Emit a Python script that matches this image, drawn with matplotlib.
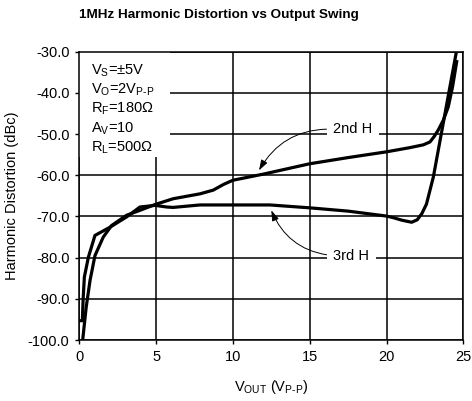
import matplotlib
matplotlib.use("Agg")
import matplotlib.pyplot as plt
from matplotlib.patches import Rectangle

plt.rcParams['font.family'] = ['Liberation Sans', 'DejaVu Sans']
plt.rcParams['mathtext.fontset'] = 'custom'
plt.rcParams['mathtext.rm'] = 'Liberation Sans'

# Data
h2_v = [0.22, 0.45, 0.7, 1.02, 1.56, 2.1, 3.08, 3.95, 4.93, 6.1, 7.86, 8.72, 9.4, 10,
        12, 15, 17.5, 20, 21.5, 22.4, 22.83, 23.1, 23.37, 23.7, 24.02, 24.3, 24.57]
h2_d = [-100, -92, -85.5, -79.5, -75, -72.2, -69.7, -68.5, -67.1, -65.7, -64.5, -63.6, -62.2, -61.2,
        -59.7, -57.2, -55.7, -54.3, -53.3, -52.6, -51.9, -50.6, -49, -46.6, -43.4, -38.5, -32.4]

h3_v = [0.05, 0.2, 0.25, 0.33, 0.59, 1.02, 2.0, 3.08, 3.95, 4.93, 5.69, 6.1, 7.86, 10,
        12.4, 15, 17.5, 20, 20.45, 21.0, 21.64, 22.0, 22.3, 22.6, 23.05, 23.7, 24.0, 24.52]
h3_d = [-95.3, -95.3, -90, -84.7, -79.9, -74.6, -72.6, -70.1, -67.7, -67.3, -67.7, -67.8, -67.2, -67.2,
        -67.2, -67.9, -68.7, -69.9, -70.3, -70.9, -71.4, -70.8, -69.3, -67.0, -60.4, -47.2, -41.1, -30.6]

x_ticks = [0, 5, 10, 15, 20, 25]
y_ticks = [-100, -90, -80, -70, -60, -50, -40, -30]
cond_lines = [r'V$_\mathregular{S}$=±5V', r'V$_\mathregular{O}$=2V$_\mathregular{P\text{-}P}$',
              r'R$_\mathregular{F}$=180Ω', r'A$_\mathregular{V}$=10', r'R$_\mathregular{L}$=500Ω']

fig = plt.figure(figsize=(4.72, 4.01), dpi=100)
ax = fig.add_axes([0.168, 0.152, 0.8136, 0.719])

ax.set_xlim(0, 25)
ax.set_ylim(-100, -30)
ax.set_xticks(x_ticks)
ax.set_yticks(y_ticks)
ax.set_yticklabels([f"{t:.1f}" for t in y_ticks])
ax.grid(True, color='black', linewidth=1.1, zorder=1)
ax.set_axisbelow(True)
for s in ax.spines.values():
    s.set_linewidth(1.1)
ax.tick_params(length=3, width=1.0, labelsize=10.5, pad=4)

ax.plot(h2_v, h2_d, color='black', linewidth=2.3, zorder=3, solid_joinstyle='round')
ax.plot(h3_v, h3_d, color='black', linewidth=2.3, zorder=3, solid_joinstyle='round')

# White box behind conditions
ax.add_patch(Rectangle((0, 0.635), 0.236, 0.365, transform=ax.transAxes,
                       facecolor='white', edgecolor='none', zorder=2))
for i, t in enumerate(cond_lines):
    ax.text(0.03, 0.935 - i * 0.067, t, transform=ax.transAxes, fontsize=10.5,
            va='center', ha='left', zorder=4)

ax.annotate('2nd H', xy=(11.7, -58.8), xytext=(17.8, -48.8), fontsize=10.5,
            ha='center', va='center', zorder=4,
            bbox=dict(boxstyle='square,pad=0.45', facecolor='white', edgecolor='none'),
            arrowprops=dict(arrowstyle='-|>,head_length=0.6,head_width=0.2', color='black', lw=0.7,
                            shrinkA=0, shrinkB=0, relpos=(0, 0.5),
                            connectionstyle='arc3,rad=0.3'))
ax.annotate('3rd H', xy=(12.5, -68.5), xytext=(17.7, -79.5), fontsize=10.5,
            ha='center', va='center', zorder=4,
            bbox=dict(boxstyle='square,pad=0.45', facecolor='white', edgecolor='none'),
            arrowprops=dict(arrowstyle='-|>,head_length=0.6,head_width=0.2', color='black', lw=0.7,
                            shrinkA=0, shrinkB=0, relpos=(0, 0.5),
                            connectionstyle='arc3,rad=-0.3'))

ax.set_ylabel('Harmonic Distortion (dBc)', fontsize=10.5, labelpad=6)
ax.set_xlabel(r'V$_\mathregular{OUT}$ (V$_\mathregular{P\text{-}P}$)', fontsize=10.5, labelpad=10)

fig.text(0.464, 0.962, '1MHz Harmonic Distortion vs Output Swing', ha='center', va='center',
         fontsize=9.7, fontweight='bold')

fig.savefig('out.png', dpi=100)
